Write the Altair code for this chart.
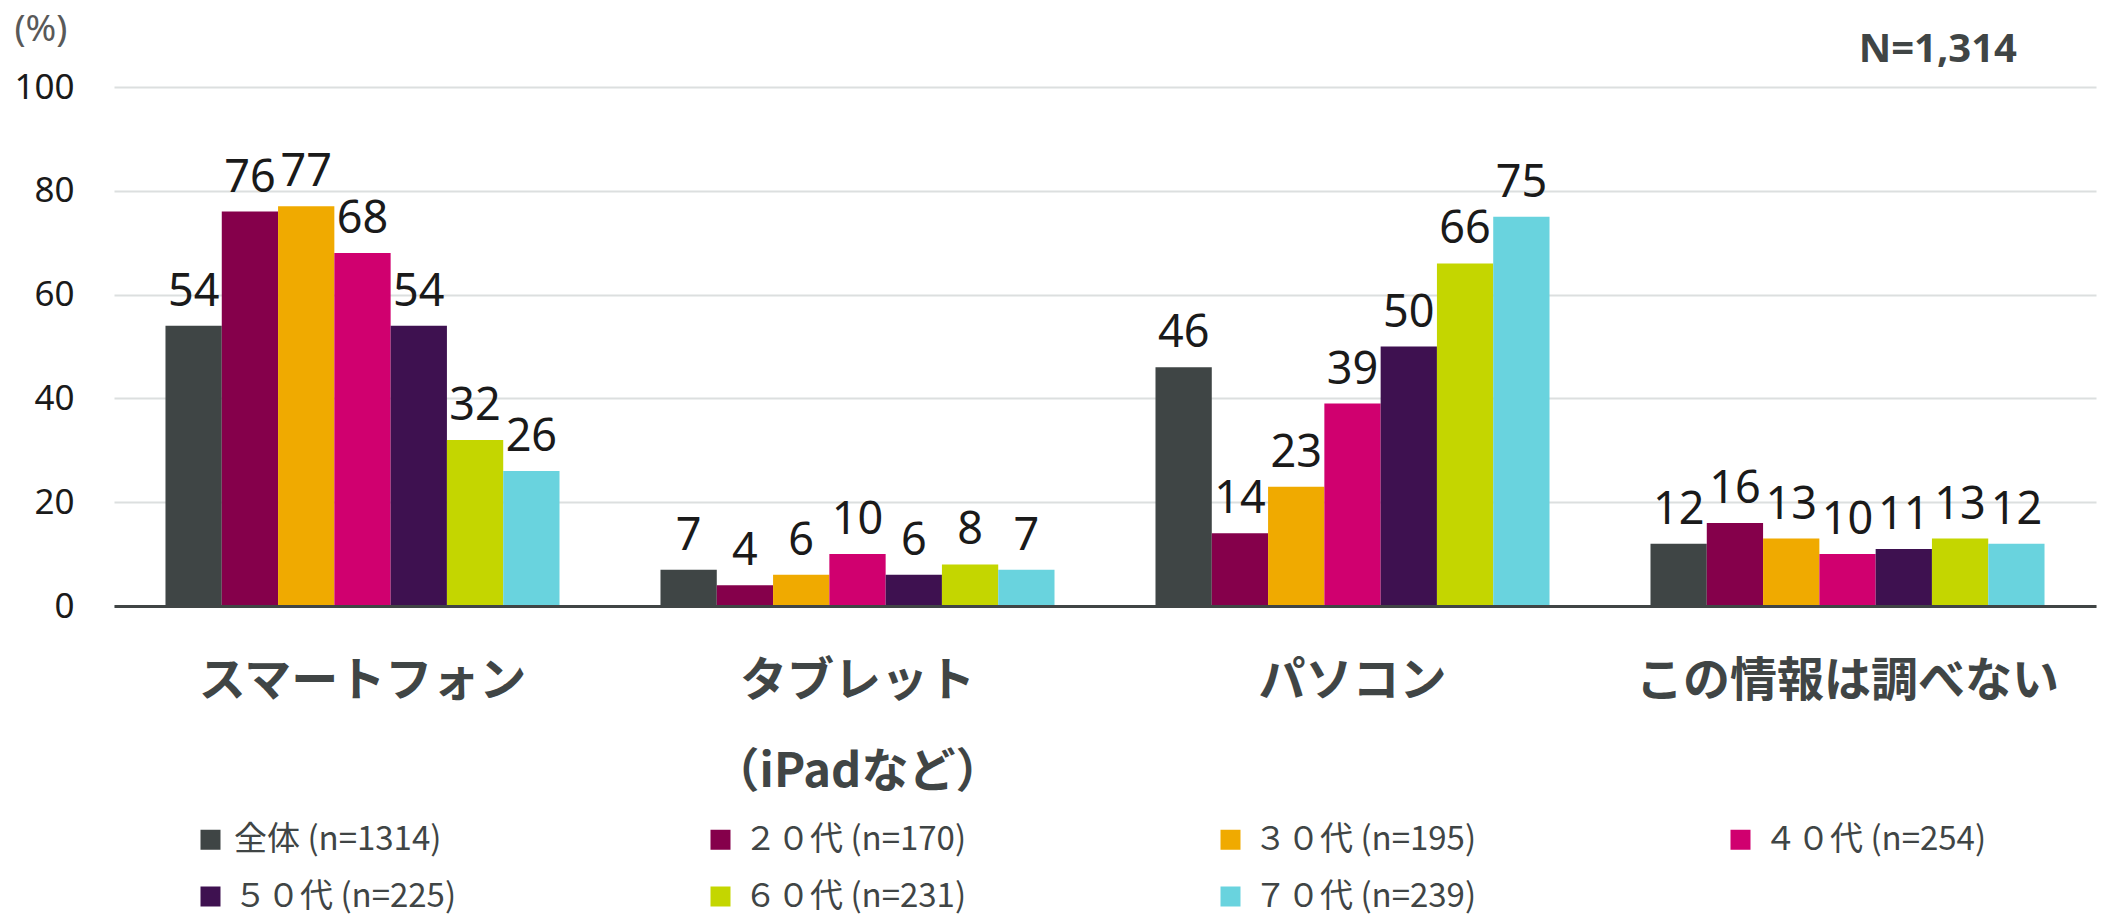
import altair as alt
import pandas as pd

# Device categories (the tablet label is drawn on two lines)
categories = ["スマートフォン", "タブレット\n（iPadなど）", "パソコン", "この情報は調べない"]

# Respondent groups, in legend / bar order
groups = [
    "全体 (n=1314)",
    "２０代 (n=170)",
    "３０代 (n=195)",
    "４０代 (n=254)",
    "５０代 (n=225)",
    "６０代 (n=231)",
    "７０代 (n=239)",
]
group_colors = ["#3f4545", "#85004b", "#f0aa00", "#d0006f", "#3e1150", "#c4d600", "#69d3de"]

# Percentages per category, one value per group
smartphone = [54, 76, 77, 68, 54, 32, 26]
tablet = [7, 4, 6, 10, 6, 8, 7]
pc = [46, 14, 23, 39, 50, 66, 75]
not_checked = [12, 16, 13, 10, 11, 13, 12]

y_ticks = [0, 20, 40, 60, 80, 100]

series = [smartphone, tablet, pc, not_checked]
rows = []
for cat, vals in zip(categories, series):
    for g, v in zip(groups, vals):
        rows.append({"category": cat, "group": g, "value": v})
df = pd.DataFrame(rows)

TEXT_DARK = "#404545"

base = alt.Chart(df).encode(
    x=alt.X(
        "category:N",
        sort=categories,
        scale=alt.Scale(paddingInner=0.204, paddingOuter=0.104),
        axis=alt.Axis(
            title=None,
            labelExpr="split(datum.label, '\\n')",
            labelAngle=0,
            labelFont="Noto Sans CJK JP",
            labelFontSize=47,
            labelFontWeight="bold",
            labelColor=TEXT_DARK,
            labelBaseline="top",
            labelPadding=52,
            labelLineHeight=91,
            labelLimit=600,
            ticks=False,
            tickSize=0,
            domainColor=TEXT_DARK,
            domainWidth=3,
            grid=False,
            zindex=1,
        ),
    ),
    xOffset=alt.XOffset(
        "group:N", sort=groups, scale=alt.Scale(paddingInner=0, paddingOuter=0)
    ),
)

bars = base.mark_bar().encode(
    y=alt.Y(
        "value:Q",
        scale=alt.Scale(domain=[0, 100], nice=False),
        axis=alt.Axis(
            values=y_ticks,
            title="(%)",
            titleAngle=0,
            titleAlign="left",
            titleBaseline="middle",
            titleX=-100,
            titleY=-58,
            titleFont="Noto Sans",
            titleFontSize=37,
            titleFontWeight="normal",
            titleColor="#595959",
            labelFont="Noto Sans",
            labelFontSize=35,
            labelColor="#1a1a1a",
            labelPadding=40,
            ticks=False,
            domain=False,
            gridColor="#dcdfdf",
            gridWidth=2,
        ),
    ),
    color=alt.Color(
        "group:N",
        sort=groups,
        scale=alt.Scale(domain=groups, range=group_colors),
        legend=alt.Legend(
            title=None,
            orient="none",
            legendX=80,
            legendY=736,
            direction="horizontal",
            columns=4,
            gridAlign="all",
            columnPadding=247,
            rowPadding=23,
            symbolType="square",
            symbolSize=400,
            symbolStrokeWidth=0,
            labelFont="Noto Sans CJK JP",
            labelFontSize=33,
            labelColor=TEXT_DARK,
            labelOffset=7,
            labelLimit=500,
            padding=0,
        ),
    ),
)

value_labels = base.mark_text(
    baseline="alphabetic",
    dy=-20,
    font="Noto Sans",
    fontSize=45,
    color="#1a1a1a",
).encode(
    y=alt.Y("value:Q"),
    text=alt.Text("value:Q"),
)

chart = (
    alt.layer(bars, value_labels)
    .properties(
        width=1982,
        height=519,
        title=alt.TitleParams(
            "N=1,314",
            anchor="end",
            orient="top",
            frame="group",
            baseline="middle",
            offset=-80,
            dx=-79,
            font="Noto Sans",
            fontSize=40,
            fontWeight="bold",
            color=TEXT_DARK,
        ),
        padding={"left": 114, "top": 87, "right": 12, "bottom": 309},
        autosize=alt.AutoSizeParams(type="none"),
        background="white",
    )
    .configure_view(stroke=None)
)

chart.save("out.html", embed_options={"renderer": "svg", "actions": False})
